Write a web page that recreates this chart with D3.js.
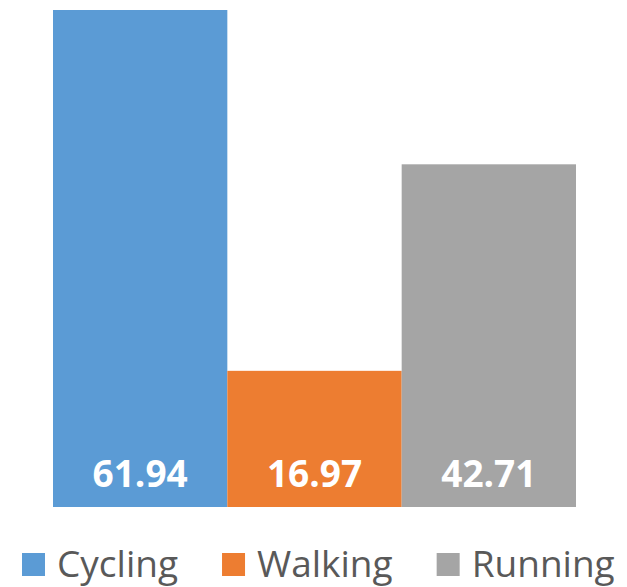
<!DOCTYPE html>
<html>
<head>
<meta charset="utf-8">
<script src="https://cdn.jsdelivr.net/npm/d3@7"></script>
<style>
  html, body { margin: 0; padding: 0; background: #ffffff; }
  svg { display: block; }
</style>
</head>
<body>
<svg id="chart" width="627" height="587"></svg>
<script>
const categories = ["Cycling", "Walking", "Running"];
const values = [61.94, 16.97, 42.71];
const valueLabels = ["61.94", "16.97", "42.71"];
const colors = ["#5B9BD5", "#ED7D31", "#A5A5A5"];

const svg = d3.select("#chart");

const x = d3.scaleBand().domain(categories).range([53, 576]).padding(0);
const y = d3.scaleLinear().domain([0, d3.max(values)]).range([507, 10]);
const color = d3.scaleOrdinal().domain(categories).range(colors);

const data = categories.map((c, i) => ({ cat: c, value: values[i], label: valueLabels[i] }));

svg.append("g").selectAll("rect")
  .data(data)
  .join("rect")
  .attr("x", d => x(d.cat))
  .attr("y", d => y(d.value))
  .attr("width", x.bandwidth())
  .attr("height", d => y(0) - y(d.value))
  .attr("fill", d => color(d.cat));

svg.append("g").selectAll("text")
  .data(data)
  .join("text")
  .attr("x", d => x(d.cat) + x.bandwidth() / 2)
  .attr("y", y(0) - 20)
  .attr("text-anchor", "middle")
  .attr("font-family", "'Open Sans', sans-serif")
  .attr("font-weight", 700)
  .attr("font-size", 37)
  .attr("fill", "#ffffff")
  .text(d => d.label);

// Legend
const legend = svg.append("g");
let cx = 22;
const sq = 23, gapText = 12, gapItem = 44, baseline = 577;
categories.forEach((c) => {
  legend.append("rect")
    .attr("x", cx).attr("y", 553)
    .attr("width", sq).attr("height", sq)
    .attr("fill", color(c));
  const t = legend.append("text")
    .attr("x", cx + sq + gapText)
    .attr("y", baseline)
    .attr("font-family", "'Open Sans', sans-serif")
    .attr("font-size", 37)
    .attr("fill", "#595959")
    .text(c);
  cx = cx + sq + gapText + t.node().getComputedTextLength() + gapItem;
});
</script>
</body>
</html>
